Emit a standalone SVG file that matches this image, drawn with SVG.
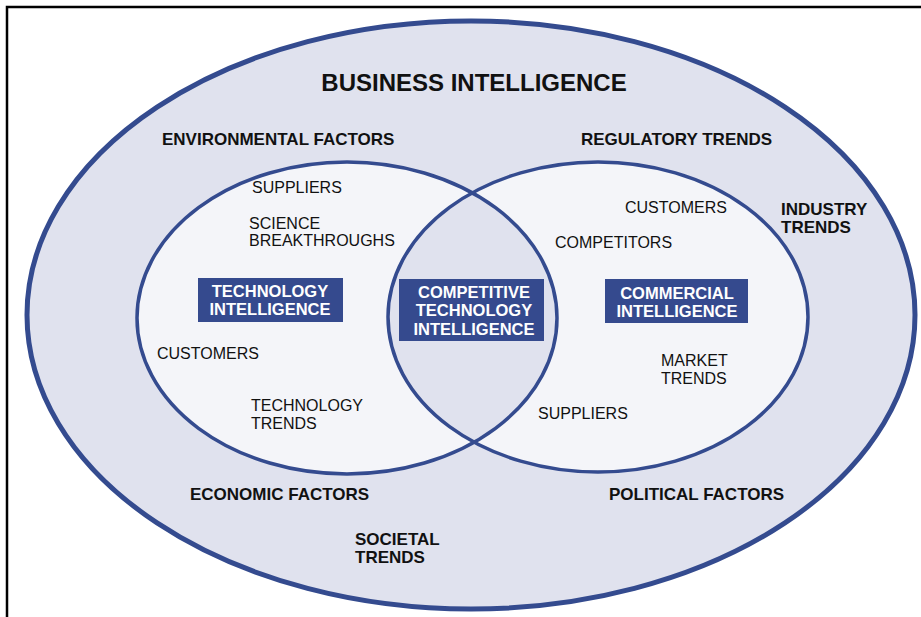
<svg xmlns="http://www.w3.org/2000/svg" width="921" height="617" viewBox="0 0 921 617">
<defs>
<style>
.frame{fill:none;stroke:#000;stroke-width:2.5}
.outer{fill:#e0e2ee;stroke:#344b8f;stroke-width:5}
.inner{fill:#f4f5f9}
.ring{fill:none;stroke:#344b8f;stroke-width:3.5}
.lens{fill:#e0e2ee}
.box{fill:#354a8e}
.t{font-family:"Liberation Sans",Arial,sans-serif;fill:#111}
.b{font-weight:bold;font-size:17px}
.r{font-size:16px}
.title{font-weight:bold;font-size:24px}
.w{font-family:"Liberation Sans",Arial,sans-serif;font-weight:bold;font-size:16.5px;fill:#fff;text-anchor:middle}
</style>
<clipPath id="clipLeft"><ellipse cx="347" cy="318" rx="210" ry="156"/></clipPath>
</defs>
<rect width="921" height="617" fill="#fff"/>
<path class="frame" d="M7,617 V7 H921"/>
<g id="business-intelligence">
<ellipse class="outer" cx="471" cy="315" rx="444" ry="294"/>
<text class="t title" x="474" y="91" text-anchor="middle">BUSINESS INTELLIGENCE</text>
</g>
<g id="technology-intelligence">
<ellipse class="inner" cx="347" cy="318" rx="210" ry="156"/>
</g>
<g id="commercial-intelligence">
<ellipse class="inner" cx="598" cy="317" rx="210" ry="155"/>
</g>
<g id="competitive-technology-intelligence">
<ellipse class="lens" cx="598" cy="317" rx="210" ry="155" clip-path="url(#clipLeft)"/>
</g>
<g id="rings">
<ellipse class="ring" cx="347" cy="318" rx="210" ry="156"/>
<ellipse class="ring" cx="598" cy="317" rx="210" ry="155"/>
</g>
<g id="technology-intelligence-label">
<rect class="box" x="198" y="278" width="145" height="44"/>
<text class="w" x="270" y="297">TECHNOLOGY</text>
<text class="w" x="270" y="315">INTELLIGENCE</text>
</g>
<g id="competitive-technology-intelligence-label">
<rect class="box" x="399" y="279" width="145" height="62"/>
<text class="w" x="474" y="297.5">COMPETITIVE</text>
<text class="w" x="474" y="316">TECHNOLOGY</text>
<text class="w" x="474" y="334.5">INTELLIGENCE</text>
</g>
<g id="commercial-intelligence-label">
<rect class="box" x="605" y="279" width="143" height="44"/>
<text class="w" x="677" y="299">COMMERCIAL</text>
<text class="w" x="677" y="317">INTELLIGENCE</text>
</g>
<g id="outer-factors">
<text class="t b" x="162" y="145">ENVIRONMENTAL FACTORS</text>
<text class="t b" x="581" y="145">REGULATORY TRENDS</text>
<text class="t b" x="781" y="215">INDUSTRY</text>
<text class="t b" x="781" y="233">TRENDS</text>
<text class="t b" x="190" y="500">ECONOMIC FACTORS</text>
<text class="t b" x="355" y="545">SOCIETAL</text>
<text class="t b" x="355" y="563">TRENDS</text>
<text class="t b" x="609" y="500">POLITICAL FACTORS</text>
</g>
<g id="technology-items">
<text class="t r" x="252" y="193">SUPPLIERS</text>
<text class="t r" x="249" y="229">SCIENCE</text>
<text class="t r" x="249" y="246">BREAKTHROUGHS</text>
<text class="t r" x="157" y="359">CUSTOMERS</text>
<text class="t r" x="251" y="411">TECHNOLOGY</text>
<text class="t r" x="251" y="429">TRENDS</text>
</g>
<g id="commercial-items">
<text class="t r" x="625" y="213">CUSTOMERS</text>
<text class="t r" x="555" y="248">COMPETITORS</text>
<text class="t r" x="661" y="366">MARKET</text>
<text class="t r" x="661" y="384">TRENDS</text>
<text class="t r" x="538" y="419">SUPPLIERS</text>
</g>
<g id="connectors"/>
</svg>
